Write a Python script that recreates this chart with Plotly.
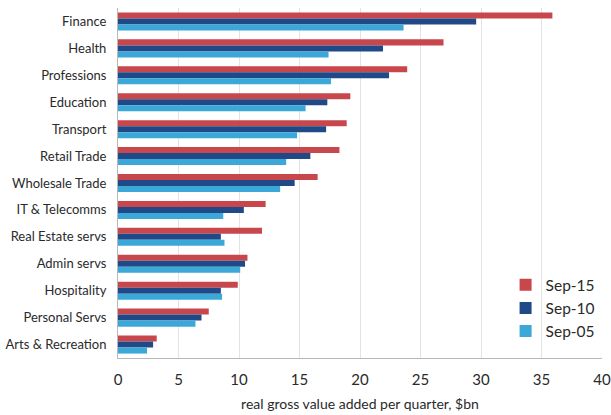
import plotly.graph_objects as go

categories = ["Finance", "Health", "Professions", "Education", "Transport", "Retail Trade",
              "Wholesale Trade", "IT & Telecomms", "Real Estate servs", "Admin servs",
              "Hospitality", "Personal Servs", "Arts & Recreation"]
sep15 = [35.9, 26.9, 23.9, 19.2, 18.9, 18.3, 16.5, 12.2, 11.9, 10.7, 9.9, 7.5, 3.2]
sep10 = [29.6, 21.9, 22.4, 17.3, 17.2, 15.9, 14.6, 10.4, 8.5, 10.5, 8.5, 6.9, 2.9]
sep05 = [23.6, 17.4, 17.6, 15.5, 14.8, 13.9, 13.4, 8.7, 8.8, 10.1, 8.6, 6.4, 2.4]
series_names = ["Sep-15", "Sep-10", "Sep-05"]
colors = ["#C8474D", "#1F4A87", "#3BA8D8"]
x_ticks = [0, 5, 10, 15, 20, 25, 30, 35, 40]

fig = go.Figure()
for name, vals, col in zip(series_names, [sep15, sep10, sep05], colors):
    fig.add_trace(go.Bar(y=categories, x=vals, name=name, orientation="h",
                         marker=dict(color=col, line=dict(width=0))))

fig.update_layout(
    width=611, height=415,
    margin=dict(l=118, r=9, t=8, b=57, autoexpand=False),
    barmode="group", bargap=0.33, bargroupgap=0,
    plot_bgcolor="white", paper_bgcolor="white",
    font=dict(family="Lato, Open Sans, sans-serif", color="#2a2a2a"),
    legend=dict(x=0.995, y=0.028, xanchor="right", yanchor="bottom",
                font=dict(size=15.5, color="#2a2a2a"), bgcolor="rgba(255,255,255,0)",
                itemwidth=30),
    showlegend=True,
)
fig.update_xaxes(range=[0, 40], tickvals=x_ticks, ticktext=[str(v) for v in x_ticks],
                 automargin=False,
                 showgrid=True, gridcolor="#E3E3E3", gridwidth=1,
                 showline=True, linecolor="#B8B8B8", linewidth=1,
                 zeroline=False, ticks="", tickfont=dict(size=15, color="#2a2a2a"),
                 ticklabelstandoff=8,
                 title=dict(text="real gross value added per quarter, $bn",
                            font=dict(size=14, color="#2a2a2a"), standoff=12))
fig.update_yaxes(autorange="reversed", showgrid=False, showline=True, automargin=False,
                 linecolor="#B8B8B8", linewidth=1, ticks="",
                 tickfont=dict(size=13, color="#2a2a2a"), ticklabelstandoff=8)

fig.write_html("out.html")
